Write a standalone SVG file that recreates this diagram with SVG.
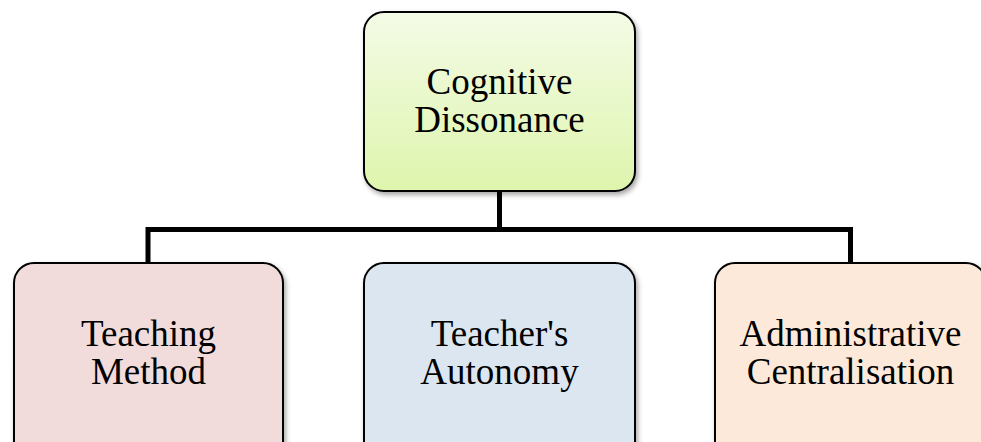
<svg xmlns="http://www.w3.org/2000/svg" width="981" height="442" viewBox="0 0 981 442">
  <defs>
    <linearGradient id="greenFill" x1="0" y1="0" x2="0" y2="1">
      <stop offset="0" stop-color="#f4fbe6"/>
      <stop offset="1" stop-color="#def5ad"/>
    </linearGradient>
    <filter id="shadow" x="-10%" y="-10%" width="120%" height="120%">
      <feDropShadow dx="2" dy="3" stdDeviation="2.5" flood-color="#000" flood-opacity="0.35"/>
    </filter>
    <style>
      .box { stroke: #000; stroke-width: 2; filter: url(#shadow); }
      .label { font-size: 37px; fill: #000; text-anchor: middle; }
      .link { fill: none; stroke: #000; stroke-width: 5; stroke-linejoin: miter; }
    </style>
  </defs>

  <!-- tree connectors -->
  <g id="connectors">
    <path class="link" d="M499.5 191 V229.5 M148 263 V229.5 H850.5 V263"/>
  </g>

  <g font-family="Liberation Serif, serif">
    <g id="cognitive-dissonance">
      <rect class="box" x="364" y="12" width="271" height="179" rx="20" fill="url(#greenFill)"/>
      <text class="label" x="499.5" y="93.5">Cognitive</text>
      <text class="label" x="499.5" y="131.5">Dissonance</text>
    </g>

    <g id="teaching-method">
      <rect class="box" x="14" y="263" width="269" height="200" rx="20" fill="#f2dcdb"/>
      <text class="label" x="148.5" y="346">Teaching</text>
      <text class="label" x="148.5" y="384">Method</text>
    </g>

    <g id="teachers-autonomy">
      <rect class="box" x="364" y="263" width="271" height="200" rx="20" fill="#dce6f1"/>
      <text class="label" x="499.5" y="346">Teacher's</text>
      <text class="label" x="499.5" y="384">Autonomy</text>
    </g>

    <g id="administrative-centralisation">
      <rect class="box" x="715" y="263" width="271" height="200" rx="20" fill="#fde9d9"/>
      <text class="label" x="850.5" y="346">Administrative</text>
      <text class="label" x="850.5" y="384">Centralisation</text>
    </g>
  </g>
</svg>
